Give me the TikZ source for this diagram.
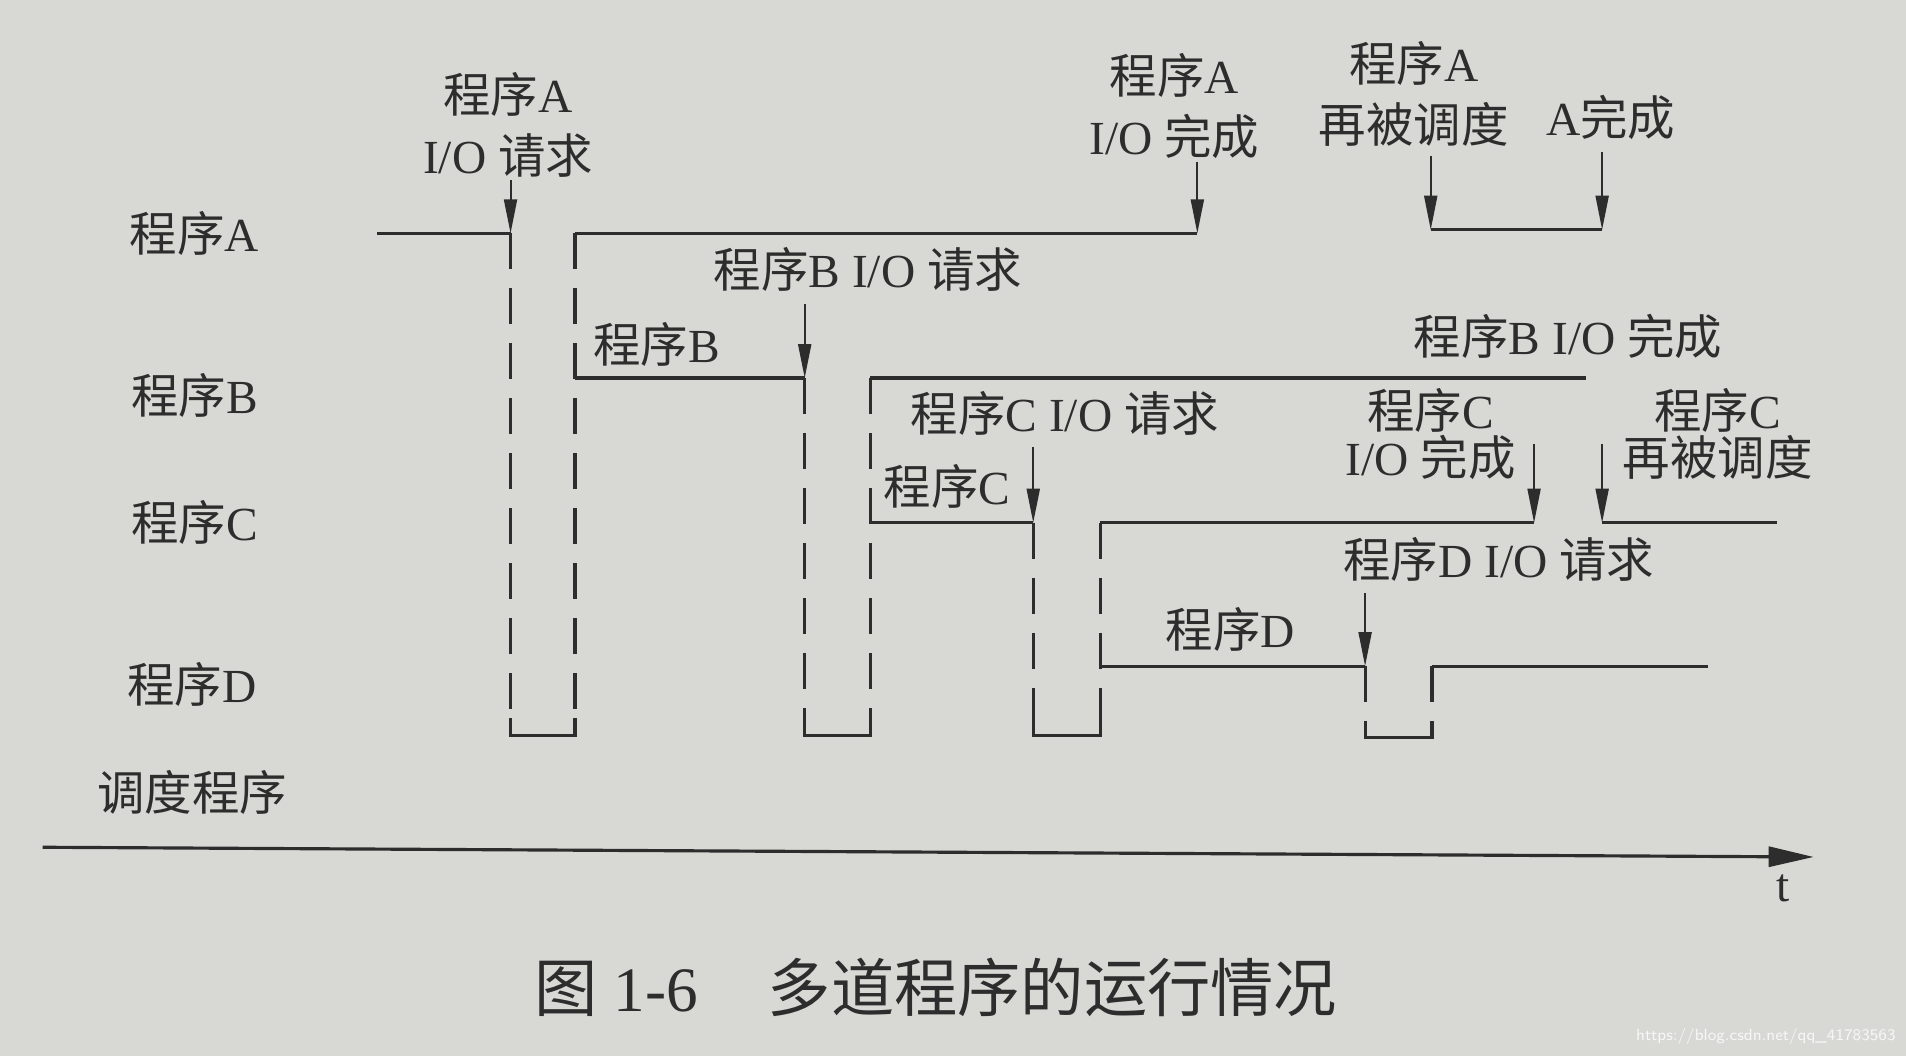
\documentclass[tikz,border=0pt]{standalone}
\usepackage{fontspec}
\setmainfont{Liberation Serif}
\newfontfamily\cjk{Noto Sans CJK SC}
\usetikzlibrary{arrows.meta}
\definecolor{paper}{RGB}{216,216,213}
\definecolor{ink}{RGB}{45,45,45}
\newcommand{\cx}[1]{{\cjk #1}}

\begin{document}
\begin{tikzpicture}[
    x=0.12156mm, y=-0.12156mm,
    every node/.style={text=ink, inner sep=0pt},
    lbl/.style={font=\fontsize{13.5}{17.3}\selectfont, align=center},
    tightlbl/.style={font=\fontsize{13.5}{13.4}\selectfont, align=center},
    run/.style={draw=ink, line width=0.9pt},
    wait/.style={draw=ink, line width=0.9pt, dash pattern=on 3.6mm off 1.9mm},
    evt/.style={draw=ink, line width=0.55pt, -{Triangle[length=3.4mm,width=1.3mm]}},
    timeax/.style={draw=ink, line width=0.9pt, -{Triangle[length=4.5mm,width=2mm]}}
  ]
    \useasboundingbox (0,0) rectangle (1568,869);
    \fill[paper] (0,0) rectangle (1568,869);

    % row labels
    \node[lbl] (rowA) at (160,192) {\cx{程序}A};
    \node[lbl] (rowB) at (160,325) {\cx{程序}B};
    \node[lbl] (rowC) at (160,430) {\cx{程序}C};
    \node[lbl] (rowD) at (158,563) {\cx{程序}D};
    \node[lbl] (rowS) at (158,652) {\cx{调度程序}};

    % time points on each row
    \coordinate (a0) at (310,192);
    \coordinate (a1) at (420,192);
    \coordinate (a2) at (473,192);
    \coordinate (a3) at (985,192);
    \coordinate (a4) at (1177,189);
    \coordinate (a5) at (1318,189);
    \coordinate (b1) at (473,311);
    \coordinate (b2) at (662,311);
    \coordinate (b3) at (716,311);
    \coordinate (b4) at (1305,311);
    \coordinate (c1) at (716,430);
    \coordinate (c2) at (850,430);
    \coordinate (c3) at (905,430);
    \coordinate (c4) at (1262,430);
    \coordinate (c5) at (1318,430);
    \coordinate (c6) at (1462,430);
    \coordinate (d1) at (905,548);
    \coordinate (d2) at (1123,548);
    \coordinate (d3) at (1178,548);
    \coordinate (d4) at (1405,548);
    \coordinate (s1) at (420,605);
    \coordinate (s2) at (473,605);
    \coordinate (s3) at (662,605);
    \coordinate (s4) at (716,605);
    \coordinate (s5) at (850,605);
    \coordinate (s6) at (905,605);
    \coordinate (s7) at (1123,607);
    \coordinate (s8) at (1178,607);

    % running segments
    \draw[run] (a0) -- (a1);
    \draw[run] (a2) -- (a3);
    \draw[run] (a4) -- (a5);
    \draw[run] (b1) -- (b2);
    \draw[run] (b3) -- (b4);
    \draw[run] (c1) -- (c2);
    \draw[run] (c3) -- (c4);
    \draw[run] (c5) -- (c6);
    \draw[run] (d1) -- (d2);
    \draw[run] (d3) -- (d4);

    % switches through the scheduler
    \draw[wait] (a1) -- (s1);
    \draw[wait] (a2) -- (s2);
    \draw[wait] (b2) -- (s3);
    \draw[wait] (b3) -- (s4);
    \draw[wait] (c2) -- (s5);
    \draw[wait] (c3) -- (s6);
    \draw[wait] (d2) -- (s7);
    \draw[wait] (d3) -- (s8);
    \foreach \l/\r in {s1/s2,s3/s4,s5/s6,s7/s8}
      \draw[run] (\l) ++(0,-14) -- (\l) -- (\r) -- ++(0,-14);

    % event labels
    \node[lbl] (evA1) at (418,103) {\cx{程序}A\\I/O \cx{请求}};
    \node[lbl] (evB1) at (714,222) {\cx{程序}B I/O \cx{请求}};
    \node[lbl] (runB) at (540,283) {\cx{程序}B};
    \node[lbl] (evA2) at (966,87) {\cx{程序}A\\I/O \cx{完成}};
    \node[lbl] (evA3) at (1163,77) {\cx{程序}A\\\cx{再被调度}};
    \node[lbl] (evA4) at (1325,97) {A\cx{完成}};
    \node[lbl] (evB2) at (1290,277) {\cx{程序}B I/O \cx{完成}};
    \node[lbl] (evC1) at (876,340) {\cx{程序}C I/O \cx{请求}};
    \node[lbl] (runC) at (779,400) {\cx{程序}C};
    \node[tightlbl] (evC2) at (1177,357) {\cx{程序}C\\I/O \cx{完成}};
    \node[tightlbl] (evC3) at (1413,357) {\cx{程序}C\\\cx{再被调度}};
    \node[lbl] (evD1) at (1233,460) {\cx{程序}D I/O \cx{请求}};
    \node[lbl] (runD) at (1012,518) {\cx{程序}D};

    % event arrows
    \coordinate (ta1) at (420,148);
    \coordinate (tb2) at (662,250);
    \coordinate (ta3) at (985,133);
    \coordinate (ta4) at (1177,128);
    \coordinate (ta5) at (1318,125);
    \coordinate (tc2) at (850,368);
    \coordinate (tc4) at (1262,365);
    \coordinate (tc5) at (1318,365);
    \coordinate (td2) at (1123,488);
    \draw[evt] (ta1) -- (a1);
    \draw[evt] (tb2) -- (b2);
    \draw[evt] (ta3) -- (a3);
    \draw[evt] (ta4) -- (a4);
    \draw[evt] (ta5) -- (a5);
    \draw[evt] (tc2) -- (c2);
    \draw[evt] (tc4) -- (c4);
    \draw[evt] (tc5) -- (c5);
    \draw[evt] (td2) -- (d2);

    % time axis
    \coordinate (t0) at (35,697);
    \coordinate (t1) at (1492,705);
    \draw[timeax] (t0) -- (t1);
    \node[lbl] (tlab) at (1467,731) {t};

    \node[font=\fontsize{18}{20}\selectfont] (cap) at (770,812)
      {\cx{图} 1-6\hspace{1.1em}\cx{多道程序的运行情况}};
    \node[font=\fontsize{4.6}{5}\sffamily, text=white!80!paper, anchor=east] (wm) at (1560,853)
      {https://blog.csdn.net/qq\_41783563};
  \end{tikzpicture}
\end{document}
